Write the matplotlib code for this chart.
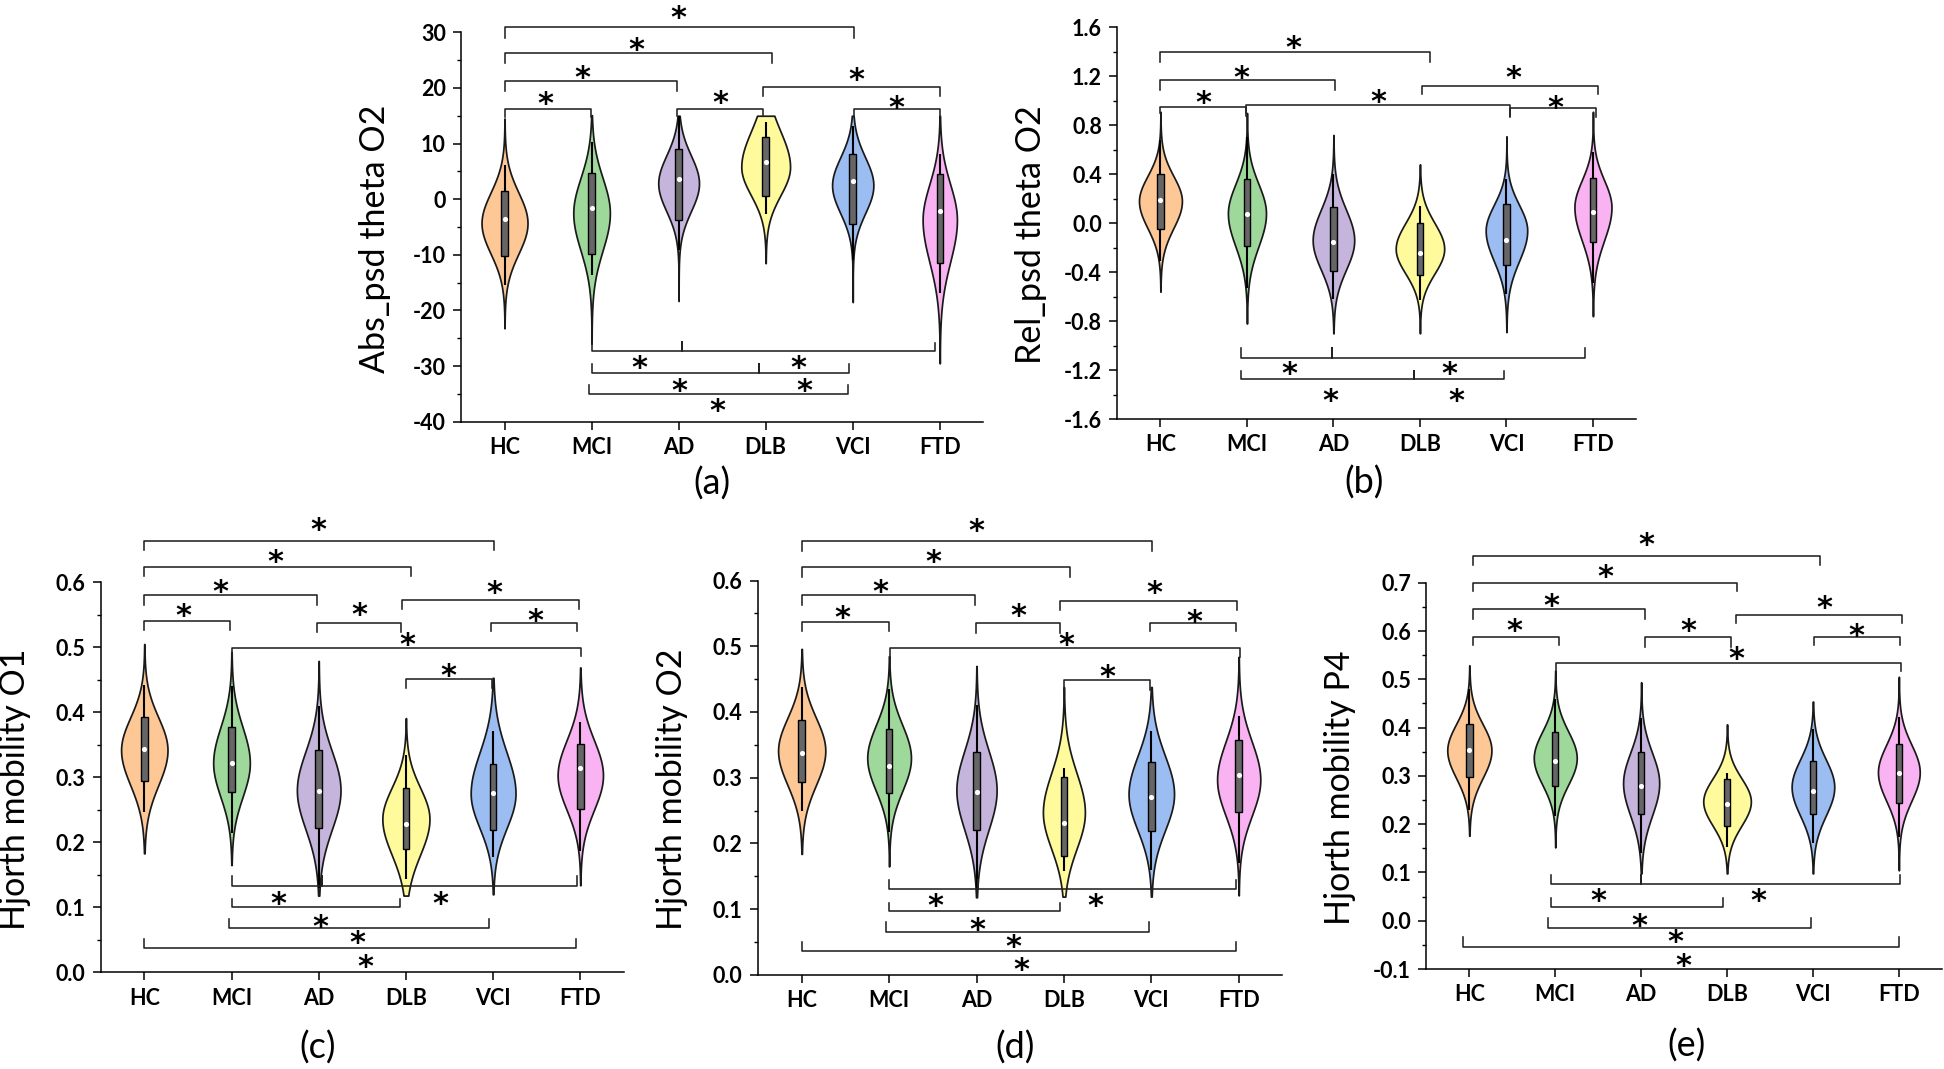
import numpy as np
import matplotlib.pyplot as plt

plt.rcParams['font.family'] = ['Lato', 'DejaVu Sans']
plt.rcParams['axes.unicode_minus'] = False

groups = ['HC', 'MCI', 'AD', 'DLB', 'VCI', 'FTD']
colors = ['#FDC895', '#9ED99B', '#C5B4DC', '#FFFB9C', '#9BBDF2', '#F9B3F2']

# violin outline per group: low end, high end, mode, half width at mode, spread below, spread above
# box per group: whisker low, q1, median, q3, whisker high
# brackets: x1, x2, y of bar, y where the legs end
# stars: x, y

# ---- (a) Abs_psd theta O2
a_violin = [[-23.2, 14.5, -4.3, 0.264, 5.5, 5.5],
            [-26.0, 15.1, -2.5, 0.21, 6.7, 6.3],
            [-18.3, 15.0, 2.85, 0.234, 5.0, 5.0],
            [-11.5, 15.0, 5.8, 0.28, 5.1, 6.4],
            [-18.5, 15.0, 2.5, 0.237, 5.0, 5.0],
            [-29.5, 15.0, -3.7, 0.197, 7.6, 6.4]]
a_box = [[-15.4, -10.3, -3.6, 1.4, 6.1],
         [-13.6, -9.85, -1.5, 4.65, 10.3],
         [-9.1, -3.7, 3.6, 9.0, 15.0],
         [-2.7, 0.5, 6.6, 11.2, 13.9],
         [-10.9, -4.5, 3.3, 8.1, 13.2],
         [-16.9, -11.5, -2.1, 4.5, 8.1]]
a_brk = [[1.0, 1.995, 16.3, 14.8], [1.0, 2.98, 21.25, 19.5], [1.0, 4.075, 26.2, 24.5],
         [1.0, 5.01, 31.0, 29.0], [2.98, 3.97, 16.3, 15.0], [3.97, 6.0, 20.2, 18.5],
         [5.01, 6.0, 16.3, 15.0],
         [2.0, 5.95, -27.3, -25.9], [3.04, 3.04, -27.3, -25.6],
         [2.0, 4.96, -31.3, -29.6], [3.92, 3.92, -31.3, -29.6],
         [1.97, 4.94, -35.0, -33.4]]
a_star = [[1.47, 18.6], [1.89, 23.3], [2.51, 28.3], [3.0, 34.0], [3.48, 18.7],
          [5.04, 22.9], [5.5, 17.8],
          [2.545, -28.9], [4.38, -28.9], [3.01, -33.1], [4.45, -33.1], [3.45, -36.7]]

# ---- (b) Rel_psd theta O2
b_violin = [[-0.56, 0.91, 0.18, 0.248, 0.22, 0.205],
            [-0.82, 0.90, 0.08, 0.22, 0.27, 0.24],
            [-0.90, 0.72, -0.14, 0.24, 0.24, 0.25],
            [-0.90, 0.48, -0.21, 0.28, 0.20, 0.21],
            [-0.89, 0.71, -0.06, 0.24, 0.25, 0.21],
            [-0.76, 0.91, 0.13, 0.214, 0.27, 0.22]]
b_box = [[-0.31, -0.05, 0.19, 0.40, 0.68],
         [-0.53, -0.19, 0.075, 0.358, 0.70],
         [-0.62, -0.39, -0.157, 0.13, 0.40],
         [-0.63, -0.42, -0.246, 0.0, 0.14],
         [-0.58, -0.34, -0.137, 0.155, 0.36],
         [-0.49, -0.157, 0.09, 0.37, 0.58]]
b_brk = [[1.0, 1.99, 0.95, 0.897], [1.99, 5.04, 0.965, 0.875], [5.04, 6.03, 0.94, 0.87],
         [1.0, 3.02, 1.17, 1.09], [1.0, 4.12, 1.396, 1.32], [4.02, 6.06, 1.12, 1.055],
         [1.935, 5.91, -1.104, -1.02], [2.98, 2.98, -1.104, -1.02],
         [1.935, 4.97, -1.276, -1.205], [3.93, 3.93, -1.276, -1.205]]
b_star = [[1.50, 1.05], [3.52, 1.06], [5.56, 1.01], [1.93, 1.25], [2.54, 1.50], [5.08, 1.25],
          [2.49, -1.17], [4.34, -1.17], [2.97, -1.39], [4.42, -1.39]]

# ---- (c) Hjorth mobility O1
c_violin = [[0.183, 0.505, 0.342, 0.266, 0.054, 0.05],
            [0.165, 0.493, 0.322, 0.21, 0.052, 0.055],
            [0.118, 0.479, 0.28, 0.25, 0.06, 0.06],
            [0.118, 0.391, 0.236, 0.27, 0.055, 0.048],
            [0.12, 0.453, 0.275, 0.257, 0.053, 0.063],
            [0.134, 0.469, 0.303, 0.26, 0.053, 0.054]]
c_box = [[0.246, 0.294, 0.344, 0.393, 0.4425],
         [0.2145, 0.278, 0.322, 0.377, 0.44],
         [0.13, 0.222, 0.279, 0.342, 0.41],
         [0.144, 0.19, 0.2285, 0.283, 0.335],
         [0.177, 0.219, 0.276, 0.321, 0.371],
         [0.187, 0.251, 0.315, 0.352, 0.3855]]
c_brk = [[1.0, 1.98, 0.5397, 0.526], [1.0, 2.975, 0.581, 0.565], [1.0, 4.06, 0.624, 0.609],
         [1.0, 5.01, 0.664, 0.649], [2.975, 3.94, 0.5374, 0.523], [3.95, 5.985, 0.5726, 0.559],
         [4.98, 5.966, 0.537, 0.525], [2.0, 6.01, 0.4994, 0.486], [4.0, 4.99, 0.451, 0.437],
         [2.0, 5.96, 0.1335, 0.148], [3.04, 3.04, 0.1335, 0.148],
         [2.0, 3.93, 0.10, 0.113], [1.97, 4.95, 0.068, 0.082], [1.0, 5.95, 0.0374, 0.0514]]
c_star = [[1.45, 0.56], [1.876, 0.598], [2.5, 0.644], [3.0, 0.693], [3.47, 0.5615],
          [5.02, 0.596], [5.48, 0.5525], [4.02, 0.516], [4.49, 0.469],
          [2.54, 0.118], [4.39, 0.118], [3.02, 0.082], [3.44, 0.058], [3.53, 0.0207]]

# ---- (d) Hjorth mobility O2
d_violin = [[0.184, 0.496, 0.341, 0.27, 0.052, 0.05],
            [0.165, 0.485, 0.33, 0.25, 0.05, 0.05],
            [0.118, 0.47, 0.281, 0.23, 0.06, 0.06],
            [0.119, 0.438, 0.247, 0.24, 0.055, 0.06],
            [0.119, 0.438, 0.275, 0.26, 0.055, 0.058],
            [0.121, 0.484, 0.297, 0.247, 0.055, 0.058]]
d_box = [[0.25, 0.293, 0.3376, 0.388, 0.438],
         [0.217, 0.276, 0.318, 0.3746, 0.435],
         [0.13, 0.22, 0.278, 0.3387, 0.41],
         [0.158, 0.181, 0.231, 0.3017, 0.315],
         [0.16, 0.219, 0.2713, 0.3237, 0.371],
         [0.17, 0.2475, 0.3044, 0.358, 0.394]]
d_brk = [[1.0, 1.996, 0.5376, 0.524], [1.0, 2.98, 0.578, 0.5635], [1.0, 4.07, 0.62, 0.6055],
         [1.0, 5.01, 0.66, 0.645], [2.99, 3.96, 0.536, 0.521], [3.96, 5.98, 0.569, 0.556],
         [4.99, 5.97, 0.535, 0.523], [2.015, 6.01, 0.497, 0.484], [4.0, 4.99, 0.448, 0.434],
         [1.995, 5.97, 0.1304, 0.1436], [3.02, 3.02, 0.1304, 0.1436],
         [1.995, 3.95, 0.0967, 0.109], [1.97, 4.97, 0.0652, 0.08], [1.0, 5.97, 0.036, 0.05]]
d_star = [[1.47, 0.556], [1.9, 0.5945], [2.51, 0.64], [3.0, 0.688], [3.48, 0.5586],
          [5.03, 0.593], [5.49, 0.55], [4.03, 0.514], [4.5, 0.466],
          [2.53, 0.1177], [4.36, 0.1177], [3.01, 0.0807], [3.42, 0.0552], [3.51, 0.02]]

# ---- (e) Hjorth mobility P4
e_violin = [[0.176, 0.529, 0.353, 0.257, 0.057, 0.054],
            [0.152, 0.518, 0.337, 0.25, 0.055, 0.055],
            [0.098, 0.494, 0.285, 0.21, 0.067, 0.063],
            [0.098, 0.4068, 0.247, 0.277, 0.05, 0.048],
            [0.098, 0.454, 0.277, 0.248, 0.059, 0.057],
            [0.1045, 0.5053, 0.3075, 0.243, 0.059, 0.057]]
e_box = [[0.2286, 0.2985, 0.3534, 0.4075, 0.48],
         [0.217, 0.279, 0.3316, 0.39, 0.46],
         [0.14, 0.222, 0.2797, 0.3496, 0.42],
         [0.1534, 0.1962, 0.2414, 0.294, 0.306],
         [0.16, 0.222, 0.2684, 0.33, 0.3977],
         [0.1737, 0.2444, 0.306, 0.366, 0.4218]]
e_brk = [[1.04, 2.04, 0.5887, 0.5707], [1.04, 3.05, 0.646, 0.626], [1.04, 4.12, 0.70, 0.682],
         [1.04, 5.08, 0.756, 0.736], [3.05, 4.05, 0.5872, 0.568], [4.10, 6.04, 0.634, 0.616],
         [5.01, 6.01, 0.587, 0.571], [2.01, 6.02, 0.5346, 0.5165],
         [1.95, 6.01, 0.076, 0.0947], [3.0, 3.0, 0.076, 0.0947],
         [1.95, 3.95, 0.0293, 0.0474], [1.92, 4.98, -0.0143, 0.0053], [0.93, 6.0, -0.055, -0.0346]]
e_star = [[1.52, 0.616], [1.95, 0.6684], [2.58, 0.7286], [3.06, 0.795], [3.55, 0.617],
          [5.13, 0.6647], [5.5, 0.607], [4.11, 0.5594],
          [2.5, 0.0571], [4.36, 0.0571], [2.98, 0.0068], [3.4, -0.027], [3.49, -0.0774]]

W, H = 1944, 1069
fig = plt.figure(figsize=(W / 100, H / 100), dpi=100)

# name, ylabel, data, y-limits, major step, minor step, tick format, axes box in px (l, r, t, b), letter pos px
panels = [
    ('(a)', 'Abs_psd theta O2', a_violin, a_box, a_brk, a_star, (-40, 30), 10, 5, '%d',
     (461, 983.3, 32.3, 421.7), (711.7, 483.3)),
    ('(b)', 'Rel_psd theta O2', b_violin, b_box, b_brk, b_star, (-1.6, 1.6), 0.4, 0.2, '%.1f',
     (1117.2, 1636.2, 27.3, 419), (1364, 483)),
    ('(c)', 'Hjorth mobility O1', c_violin, c_box, c_brk, c_star, (0.0, 0.6), 0.1, 0.05, '%.1f',
     (100.7, 623.9, 582.3, 972.3), (318, 1048)),
    ('(d)', 'Hjorth mobility O2', d_violin, d_box, d_brk, d_star, (0.0, 0.6), 0.1, 0.05, '%.1f',
     (758, 1282.4, 580.6, 974.8), (1014.8, 1048)),
    ('(e)', 'Hjorth mobility P4', e_violin, e_box, e_brk, e_star, (-0.1, 0.7), 0.1, 0.05, '%.1f',
     (1426.4, 1941.8, 582.8, 969), (1686, 1046)),
]

for letter, ylab, violin, box, brk, star, ylim, major, minor, fmt, px, lpos in panels:
    l, r, t, b = px
    ax = fig.add_axes([l / W, 1 - b / H, (r - l) / W, (b - t) / H])

    # violins
    for i, (lo, hi, mode, w, sl, su) in enumerate(violin):
        x = i + 1
        yy = np.linspace(lo, hi, 300)
        s = np.where(yy < mode, sl, su)
        hw = w * np.exp(-0.5 * ((yy - mode) / s) ** 2)
        ax.fill_betweenx(yy, x - hw, x + hw, facecolor=colors[i], edgecolor='#1a1a1a',
                         lw=1.25, zorder=2)

    # box, whiskers and median
    for i, (wlo, q1, med, q3, whi) in enumerate(box):
        x = i + 1
        ax.vlines(x, wlo, whi, color='k', lw=1.5, zorder=3)
        ax.bar(x, q3 - q1, bottom=q1, width=0.075, color='#666666', edgecolor='k',
               lw=1.0, zorder=4)
        ax.scatter([x], [med], s=14, color='white', lw=0, zorder=5)

    # significance brackets
    for x1, x2, y, y0 in brk:
        ax.plot([x1, x1, x2, x2], [y0, y, y, y0], color='#222222', lw=1.15,
                clip_on=False, zorder=3)
    for x, y in star:
        ax.annotate('*', (x, y), xytext=(0, -6.2), textcoords='offset points',
                    ha='center', va='center', fontsize=22, fontweight='bold',
                    family='DejaVu Sans', annotation_clip=False)

    ax.set_xlim(0.5, 6.5)
    ax.set_ylim(*ylim)
    ax.set_xticks(range(1, 7))
    ax.set_xticklabels(groups, fontsize=15.5, fontweight='bold')
    yt = np.round(np.arange(ylim[0], ylim[1] + major / 2, major), 4)
    ytm = np.round(np.arange(ylim[0], ylim[1] + minor / 2, minor), 4)
    ax.set_yticks(yt)
    ax.set_yticks(ytm, minor=True)
    ax.set_yticklabels([fmt % (v if abs(v) > 1e-9 else 0.0) for v in yt],
                       fontsize=15.5, fontweight='bold')
    ax.tick_params(axis='both', which='major', direction='out', length=6, width=1.1, pad=5)
    ax.tick_params(axis='y', which='minor', direction='out', length=3.2, width=1.0)
    for sp in ['top', 'right']:
        ax.spines[sp].set_visible(False)
    for sp in ['left', 'bottom']:
        ax.spines[sp].set_linewidth(1.1)
    ax.set_ylabel(ylab, fontsize=24.5)
    ax.yaxis.set_label_coords(-70 / (r - l), 0.47)
    ax.patch.set_alpha(0)

    fig.text(lpos[0] / W, 1 - lpos[1] / H, letter, fontsize=26, ha='center', va='center')

fig.savefig('out.png', dpi=100)
